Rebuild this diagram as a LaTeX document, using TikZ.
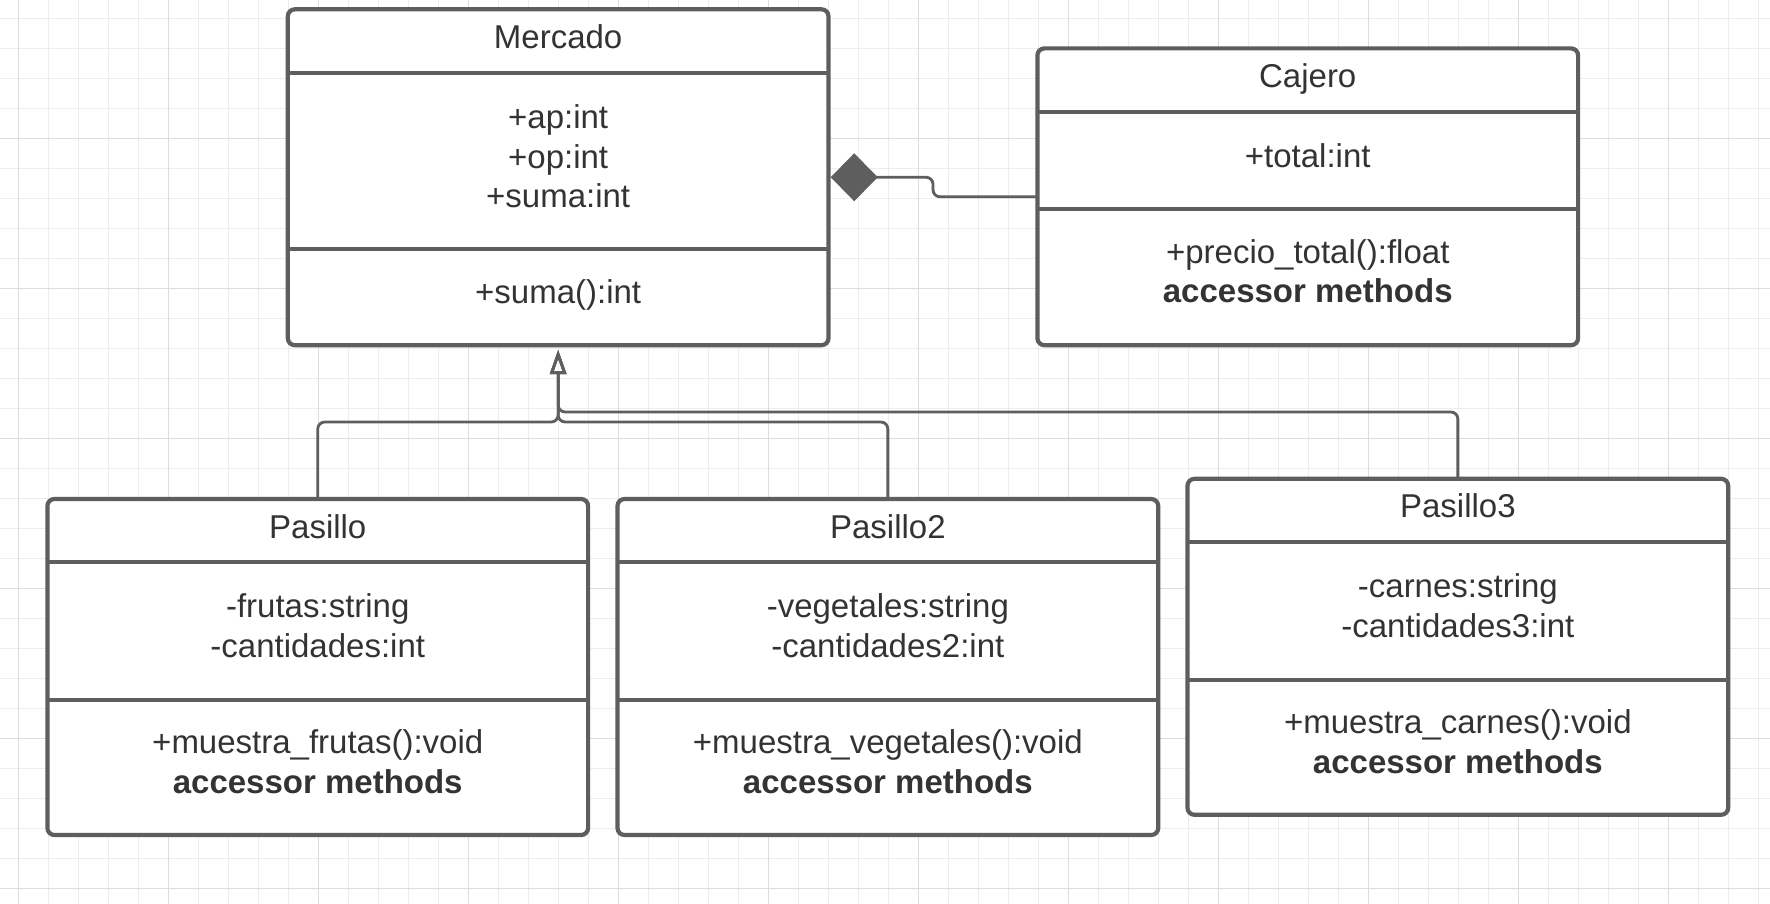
\documentclass[tikz,border=0pt]{standalone}
\usepackage{fontspec}
\setmainfont{Liberation Sans}
\usetikzlibrary{arrows.meta,calc,fit}
\definecolor{linegray}{HTML}{5E5E5E}
\definecolor{textgray}{HTML}{333333}
\definecolor{gridminor}{HTML}{EDEDED}
\definecolor{gridmajor}{HTML}{DDDDDD}
\tikzset{
  classbox/.style={draw=linegray, line width=4.2pt, rounded corners=7pt, fill=white, inner sep=0pt, outer sep=0pt},
  divider/.style={draw=linegray, line width=4pt},
  txt/.style={font=\fontsize{33}{39.5}\selectfont, text=textgray, inner sep=0pt, align=center, anchor=base},
  conn/.style={draw=linegray, line width=2.8pt, rounded corners=7pt},
  minorline/.style={draw=gridminor, line width=1pt},
  majorline/.style={draw=gridmajor, line width=1.3pt}
}
% number of lines in attribute / method compartments (set before each class)
\def\attrn{1}
\def\methn{1}
% #1 id, #2 left, #3 top, #4 bottom, #5 div1, #6 div2, #7 title, #8 attrs, #9 methods
\newcommand\umlclass[9]{%
  \coordinate (#1-nw) at (#2,#3);
  \coordinate (#1-se) at (#2+540.7,#4);
  \node[classbox, fit=(#1-nw)(#1-se)] (#1) {};
  \draw[divider] (#2,#5) -- (#2+540.7,#5);
  \draw[divider] (#2,#6) -- (#2+540.7,#6);
  \node[txt] (#1-title) at (#2+270.35,#3+39) {#7};
  \node[txt] (#1-attrs) at (#2+270.35,#5+55.5+39.5*\attrn-39.5) {#8};
  \node[txt] (#1-meth) at (#2+270.35,#6+54+39.5*\methn-39.5) {#9};
}
\begin{document}
\begin{tikzpicture}[x=1pt,y=-1pt]
\useasboundingbox (0,0) rectangle (1770,904);
\fill[white] (0,0) rectangle (1770,904);
% grid
\foreach \i in {0,...,58} \draw[minorline] (18.3+30*\i,0) -- (18.3+30*\i,904);
\foreach \j in {0,...,29} \draw[minorline] (0,18.3+30*\j) -- (1770,18.3+30*\j);
\foreach \i in {0,...,11} \draw[majorline] (18.3+150*\i,0) -- (18.3+150*\i,904);
\foreach \j in {0,...,5} \draw[majorline] (0,138.3+150*\j) -- (1770,138.3+150*\j);

% classes
\def\attrn{3}\def\methn{1}
\umlclass{mercado}{287.8}{9.3}{345.2}{73.3}{249.4}{Mercado}{+ap:int\\+op:int\\+suma:int}{+suma():int}
\def\attrn{1}\def\methn{2}
\umlclass{cajero}{1037.4}{48.4}{345.2}{112.3}{209.1}{Cajero}{+total:int}{+precio\_total():float\\\textbf{accessor methods}}
\def\attrn{2}\def\methn{2}
\umlclass{pasillo}{47.4}{499}{835}{562.2}{699.5}{Pasillo}{-frutas:string\\-cantidades:int}{+muestra\_frutas():void\\\textbf{accessor methods}}
\umlclass{pasillo2}{617.5}{499}{835}{562.2}{699.5}{Pasillo2}{-vegetales:string\\-cantidades2:int}{+muestra\_vegetales():void\\\textbf{accessor methods}}
\umlclass{pasillo3}{1187.5}{478.8}{814.8}{542.3}{679.5}{Pasillo3}{-carnes:string\\-cantidades3:int}{+muestra\_carnes():void\\\textbf{accessor methods}}

% composition
\draw[conn, -{Diamond[length=47pt,width=48pt,fill=linegray]}] (cajero.west) -- ++(-104.4,0) |- ($(mercado.east)+(2.2,0)$);

% generalization
\draw[conn, -{Triangle[open,length=24pt,width=16pt]}] (pasillo.north) |- ($(mercado.south)+(0,76.8)$) -- ($(mercado.south)+(0,4.8)$);
\draw[conn, -{Triangle[open,length=24pt,width=16pt]}] (pasillo2.north) |- ($(mercado.south)+(0,76.8)$) -- ($(mercado.south)+(0,4.8)$);
\draw[conn, -{Triangle[open,length=24pt,width=16pt]}] (pasillo3.north) |- ($(mercado.south)+(0,66.8)$) -- ($(mercado.south)+(0,4.8)$);
\end{tikzpicture}
\end{document}
